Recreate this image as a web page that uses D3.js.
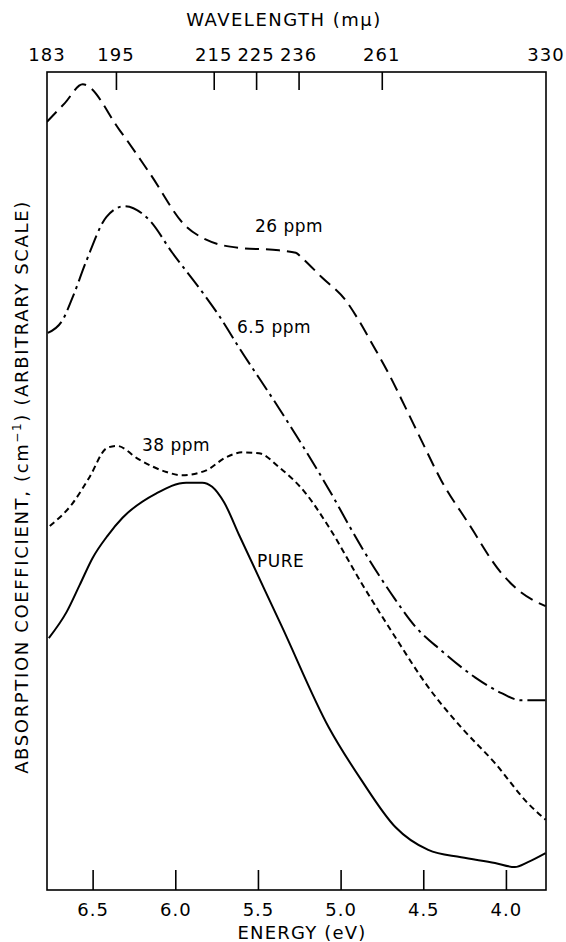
<!DOCTYPE html>
<html>
<head>
<meta charset="utf-8">
<script src="https://cdn.jsdelivr.net/npm/d3@7/dist/d3.min.js"></script>
<style>
  body { margin: 0; background: #fff; }
  svg text { font-family: "DejaVu Sans", sans-serif; fill: #000; }
</style>
</head>
<body>
<div id="chart"></div>
<script>
// energy in eV, absorption in arbitrary units (0..100)
var energy26 = [6.777, 6.668, 6.560, 6.337, 6.157, 5.934, 5.813, 5.614, 5.373, 5.271, 5.235, 5.114, 4.970, 4.892, 4.813, 4.711, 4.608, 4.512, 4.392, 4.229, 4.030, 3.928, 3.760];
var value26 = [93.9, 96.2, 98.5, 92.9, 87.7, 81.1, 79.5, 78.5, 78.2, 77.9, 77.3, 74.9, 72.1, 69.7, 66.9, 63.2, 59.0, 55.0, 50.1, 44.9, 38.8, 36.7, 34.7];

var energy65 = [6.771, 6.681, 6.620, 6.536, 6.416, 6.307, 6.157, 6.018, 5.855, 5.735, 5.614, 5.373, 5.133, 5.072, 4.873, 4.669, 4.548, 4.392, 4.187, 4.030, 3.910, 3.760];
var value65 = [68.1, 69.7, 72.5, 77.0, 82.3, 83.6, 81.9, 77.9, 73.6, 70.2, 66.3, 58.9, 51.1, 49.0, 41.9, 35.5, 32.2, 29.3, 26.0, 24.1, 23.2, 23.2];

var energy38 = [6.759, 6.620, 6.518, 6.416, 6.355, 6.217, 6.054, 5.958, 5.813, 5.693, 5.596, 5.494, 5.373, 5.211, 5.072, 4.873, 4.669, 4.470, 4.271, 4.066, 3.867, 3.760];
var value38 = [44.5, 47.3, 50.5, 54.0, 54.3, 52.6, 51.1, 50.7, 51.3, 52.9, 53.5, 53.4, 51.7, 48.5, 44.4, 37.5, 30.9, 24.8, 19.9, 15.5, 10.6, 8.6];

var energyPure = [6.765, 6.657, 6.578, 6.500, 6.410, 6.319, 6.114, 5.934, 5.837, 5.777, 5.705, 5.614, 5.355, 5.072, 4.873, 4.669, 4.470, 4.271, 4.066, 3.946, 3.867, 3.760];
var valuePure = [30.8, 34.0, 37.3, 40.6, 43.3, 45.5, 48.5, 49.8, 49.8, 49.3, 47.4, 43.4, 32.2, 19.9, 13.4, 7.7, 4.9, 4.0, 3.3, 2.8, 3.4, 4.5];

var energyTicks = [6.5, 6.0, 5.5, 5.0, 4.5, 4.0];
var wavelengthTicks = [195, 215, 225, 236, 261];
var wavelengthLabels = [183, 195, 215, 225, 236, 261, 330];

var width = 566, height = 942;
var plotL = 47, plotR = 546, plotT = 72, plotB = 890;

var svg = d3.select("#chart").append("svg")
    .attr("width", width)
    .attr("height", height);

var x = d3.scaleLinear().domain([1240 / 183, 1240 / 330]).range([plotL, plotR]);
var y = d3.scaleLinear().domain([0, 100]).range([plotB, plotT]);

var line = d3.line()
    .x(function (d) { return x(d[0]); })
    .y(function (d) { return y(d[1]); })
    .curve(d3.curveMonotoneX);

var series = [
    { e: energy26, v: value26, dash: "14,7" },
    { e: energy65, v: value65, dash: "18,5,3,5" },
    { e: energy38, v: value38, dash: "6,4" },
    { e: energyPure, v: valuePure, dash: null }
];

svg.append("clipPath").attr("id", "plot")
    .append("rect")
    .attr("x", plotL).attr("y", plotT)
    .attr("width", plotR - plotL).attr("height", plotB - plotT);

var g = svg.append("g").attr("clip-path", "url(#plot)");

series.forEach(function (s) {
    var pts = s.e.map(function (e, i) { return [e, s.v[i]]; });
    g.append("path")
        .attr("d", line(pts))
        .attr("fill", "none")
        .attr("stroke", "#000")
        .attr("stroke-width", 2)
        .attr("stroke-dasharray", s.dash);
});

// frame
svg.append("rect")
    .attr("x", plotL).attr("y", plotT)
    .attr("width", plotR - plotL).attr("height", plotB - plotT)
    .attr("fill", "none")
    .attr("stroke", "#000")
    .attr("stroke-width", 1.6);

// bottom axis, ticks inside
var xAxis = d3.axisBottom(x)
    .tickValues(energyTicks)
    .tickSize(-20)
    .tickPadding(8)
    .tickFormat(d3.format(".1f"));

var gx = svg.append("g")
    .attr("transform", "translate(0," + plotB + ")")
    .call(xAxis);
gx.select(".domain").remove();
gx.selectAll(".tick line").attr("stroke-width", 1.6);
gx.selectAll(".tick text")
    .attr("y", 26)
    .attr("dy", 0)
    .style("font-size", "18px")
    .style("letter-spacing", "1px");

// top axis: wavelength, placed at 1240/lambda
var xTop = d3.axisTop(x)
    .tickValues(wavelengthTicks.map(function (w) { return 1240 / w; }))
    .tickSize(-18)
    .tickFormat("");

var gt = svg.append("g")
    .attr("transform", "translate(0," + plotT + ")")
    .call(xTop);
gt.select(".domain").remove();
gt.selectAll(".tick line").attr("stroke-width", 1.6);

svg.append("g").selectAll("text")
    .data(wavelengthLabels)
    .enter().append("text")
    .attr("x", function (w) { return x(1240 / w); })
    .attr("y", 61)
    .attr("text-anchor", "middle")
    .style("font-size", "18px")
    .style("letter-spacing", "1px")
    .text(function (w) { return w; });

svg.append("text")
    .attr("x", 284).attr("y", 26)
    .attr("text-anchor", "middle")
    .style("font-size", "18px")
    .style("letter-spacing", "1.5px")
    .text("WAVELENGTH (m\u03bc)");

svg.append("text")
    .attr("x", 302).attr("y", 939)
    .attr("text-anchor", "middle")
    .style("font-size", "18px")
    .style("letter-spacing", "1.2px")
    .text("ENERGY (eV)");

var yl = svg.append("text")
    .attr("transform", "translate(28," + ((plotT + plotB) / 2 + 6) + ") rotate(-90)")
    .attr("text-anchor", "middle")
    .style("font-size", "18px")
    .style("letter-spacing", "1.65px");
yl.append("tspan").text("ABSORPTION COEFFICIENT, (cm");
yl.append("tspan").attr("dy", -7).style("font-size", "12px").text("\u22121");
yl.append("tspan").attr("dy", 7).text(") (ARBITRARY SCALE)");

// curve labels
var labels = [
    { t: "26 ppm", x: 255, y: 232 },
    { t: "6.5 ppm", x: 237, y: 333 },
    { t: "38 ppm", x: 142, y: 451 },
    { t: "PURE", x: 257, y: 567 }
];
svg.append("g").selectAll("text")
    .data(labels)
    .enter().append("text")
    .attr("x", function (d) { return d.x; })
    .attr("y", function (d) { return d.y; })
    .style("font-size", "17px")
    .style("letter-spacing", "0.5px")
    .text(function (d) { return d.t; });
</script>
</body>
</html>
